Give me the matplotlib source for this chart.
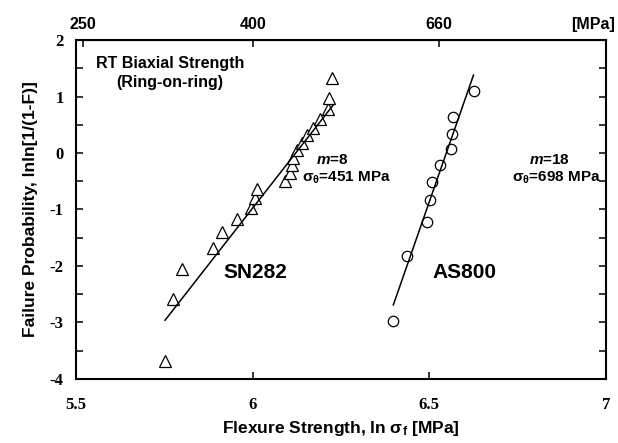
# -*- coding: utf-8 -*-
import matplotlib
matplotlib.use('Agg')
import matplotlib.pyplot as plt
import numpy as np

#%% data
sn_x = [5.752, 5.774, 5.799, 5.889, 5.912, 5.955, 5.994, 6.007, 6.011,
        6.092, 6.106, 6.110, 6.115, 6.125, 6.139, 6.153, 6.172, 6.191,
        6.214, 6.217, 6.224]
sn_y = [-3.69, -2.59, -2.05, -1.69, -1.39, -1.16, -0.98, -0.80, -0.64,
        -0.49, -0.36, -0.21, -0.09, 0.05, 0.18, 0.32, 0.45, 0.61,
        0.77, 0.97, 1.32]
as_x = [6.398, 6.436, 6.494, 6.502, 6.507, 6.530, 6.560, 6.563, 6.568, 6.627]
as_y = [-2.97, -1.82, -1.23, -0.83, -0.51, -0.21, 0.07, 0.34, 0.64, 1.10]

# lineas de ajuste de Weibull (extremos)
sn_fit_x = [5.752, 6.228]
sn_fit_y = [-2.96, 0.85]
as_fit_x = [6.398, 6.625]
as_fit_y = [-2.69, 1.38]

top_labels = ['250', '400', '660']
top_pos = [5.52, 6.0, 6.527]

plt.rcParams['mathtext.fontset'] = 'custom'
plt.rcParams['mathtext.rm'] = 'Liberation Sans:bold'
plt.rcParams['mathtext.it'] = 'Liberation Sans:italic:bold'
plt.rcParams['mathtext.bf'] = 'Liberation Sans:bold'

fig = plt.figure(figsize=(6.18, 4.43), dpi=100)
ax = fig.add_axes([0.123, 0.1445, 0.8576, 0.7652])

# puntos
ax.plot(sn_x, sn_y, '^', ms=8.5, mfc='white', mec='black', mew=0.9, ls='none')
ax.plot(as_x, as_y, 'o', ms=7.5, mfc='white', mec='black', mew=0.9, ls='none')

# rectas de ajuste
ax.plot(sn_fit_x, sn_fit_y, color='black', lw=1.1)
ax.plot(as_fit_x, as_fit_y, color='black', lw=1.1)

ax.set_xlim(5.5, 7)
ax.set_ylim(-4, 2)
ax.set_xticks([5.5, 6, 6.5, 7])
ax.set_xticklabels(['5.5', '6', '6.5', '7'])
ax.set_yticks(np.arange(-4, 3, 1))
ax.set_yticks(np.arange(-4, 2.5, 0.5), minor=True)
ax.set_yticklabels([str(v) for v in range(-4, 3)])
ax.tick_params(axis='both', which='both', direction='in', top=False, right=True)
ax.tick_params(axis='y', which='major', length=5, width=1.1, pad=9)
ax.tick_params(axis='y', which='minor', length=5, width=1.1)
ax.tick_params(axis='x', which='major', length=5, width=1.1, pad=13)
for lab in ax.get_xticklabels() + ax.get_yticklabels():
    lab.set_family(['Liberation Serif', 'DejaVu Serif'])
    lab.set_weight('bold')
    lab.set_fontsize(12)
for sp in ax.spines.values():
    sp.set_linewidth(1.5)

# eje superior
top = ax.secondary_xaxis('top')
top.set_xticks(top_pos)
top.set_xticklabels(top_labels)
top.tick_params(direction='in', length=5, width=1.1, pad=6)
for lab in top.get_xticklabels():
    lab.set_family(['Liberation Sans Narrow', 'Liberation Sans', 'DejaVu Sans'])
    lab.set_weight('bold')
    lab.set_fontsize(11.5)
ax.annotate('[MPa]', xy=(0.995, 1.0), xycoords=('figure fraction', 'axes fraction'),
            xytext=(0, 6), textcoords='offset points', ha='right', va='bottom',
            family=['Liberation Sans Narrow', 'Liberation Sans', 'DejaVu Sans'],
            weight='bold', fontsize=11.5)

# textos
sans = ['Liberation Sans', 'DejaVu Sans']
ax.text(5.766, 1.42, 'RT Biaxial Strength\n(Ring-on-ring)', ha='center', va='center',
        family=sans, weight='bold', fontsize=11.5, linespacing=1.3)
ax.text(6.225, -0.12, r'$\mathit{m}$=8', ha='center', va='center',
        family=sans, weight='bold', fontsize=11)
ax.text(6.264, -0.44, r'σ$_\mathrm{θ}$=451 MPa', ha='center', va='center',
        family=sans, weight='bold', fontsize=11)
ax.text(6.839, -0.12, r'$\mathit{m}$=18', ha='center', va='center',
        family=sans, weight='bold', fontsize=11)
ax.text(6.861, -0.44, r'σ$_\mathrm{θ}$=698 MPa', ha='center', va='center',
        family=sans, weight='bold', fontsize=11)
ax.text(6.007, -2.11, 'SN282', ha='center', va='center',
        family=sans, weight='bold', fontsize=15)
ax.text(6.60, -2.11, 'AS800', ha='center', va='center',
        family=sans, weight='bold', fontsize=15)

ax.set_xlabel(r'Flexure Strength, ln σ$_\mathrm{f}$ [MPa]', family=sans,
              weight='bold', fontsize=12.5, labelpad=4)
ax.set_ylabel('Failure Probability, lnln[1/(1-F)]', family=sans,
              weight='bold', fontsize=12.5, labelpad=8)

fig.savefig('out.png', dpi=100)
